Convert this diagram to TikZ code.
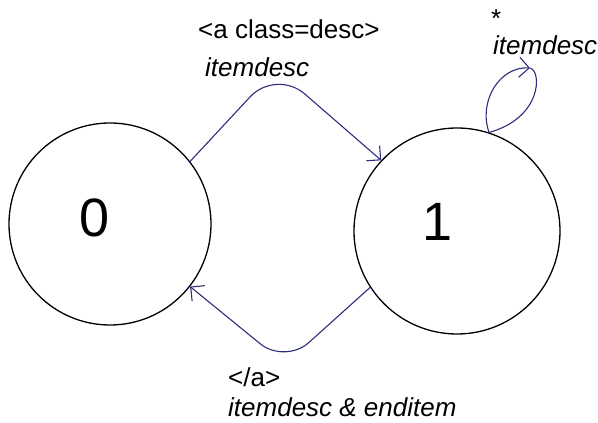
\documentclass[tikz,border=0pt]{standalone}
\usepackage{fontspec}
\setmainfont{Liberation Sans}
\usepackage{tikz}
\usetikzlibrary{arrows.meta,positioning}
\definecolor{arrowblue}{RGB}{45,45,125}

\begin{document}
\begin{tikzpicture}[x=1pt, y=1pt,
    st/.style={circle, draw=black, line width=1.3pt, inner sep=0pt},
    digit/.style={font=\fontsize{54}{60}\selectfont},
    arr/.style={-{Straight Barb[length=10pt, width=20pt, line width=1.1pt]}, line width=1.1pt, arrowblue},
    lbl/.style={anchor=west, inner sep=0pt, font=\fontsize{26}{31}\selectfont},
]
    \useasboundingbox (0,0) rectangle (598,423);
    \node[st, minimum size=202pt, label={[digit, xshift=-15pt, yshift=6pt]center:0}] (zero) at (110,199) {};
    \node[st, minimum size=206pt, label={[digit, xshift=-19pt, yshift=9pt]center:1}] (one)  at (457,192) {};
    % 0 -> 1 (top)
    \draw[arr, rounded corners=38pt] (zero.38) -- (276,354) -- (one.137);
    \node[lbl] (classlbl) at (198,394) {<a class=desc>};
    \node[lbl] (itemlbl)  at (205,356) {\itshape itemdesc};
    % 1 -> 0 (bottom)
    \draw[arr, rounded corners=32pt] (one.213) -- (285,59) -- (zero.-38);
    \node[lbl] (closelbl)   at (228,46) {</a>};
    \node[lbl] (enditemlbl) at (228,16) {\itshape itemdesc \& enditem};
    % loop on 1
    \coordinate (looptip) at (530,355);
    \draw[arr] (one.72) .. controls (478,322) and (500,357) .. (looptip);
    \draw[line width=1.1pt, arrowblue] (looptip) .. controls (542,352) and (542,305) .. (one.72);
    \node[lbl] (starlbl) at (491,404) {*};
    \node[lbl] (looplbl) at (493,378) {\itshape itemdesc};
\end{tikzpicture}
\end{document}
